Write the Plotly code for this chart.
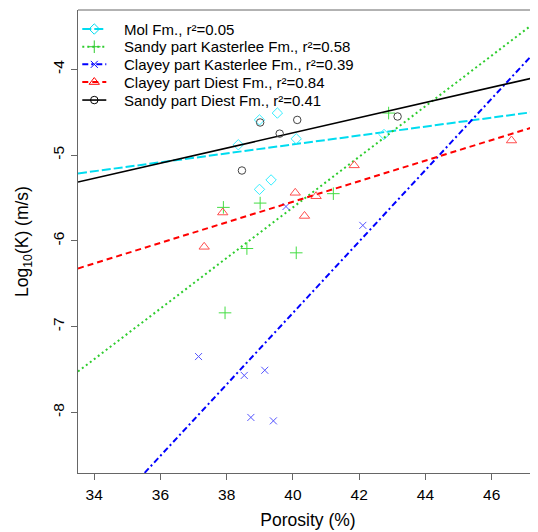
import plotly.graph_objects as go

# ---- data ----
mol_x = [39.53, 38.99, 40.10, 38.35, 39.34, 38.99, 42.75]
mol_y = [-4.51, -4.59, -4.81, -4.88, -5.29, -5.40, -4.76]

sk_x = [37.90, 39.01, 41.22, 42.89, 38.61, 40.10, 37.95]
sk_y = [-5.61, -5.56, -5.45, -4.51, -6.09, -6.14, -6.84]

ck_x = [37.15, 38.53, 39.15, 38.73, 39.41, 39.79, 42.11]
ck_y = [-7.35, -7.57, -7.51, -8.06, -8.10, -5.60, -5.82]

cd_x = [37.88, 37.32, 40.07, 40.70, 40.35, 41.85, 46.60]
cd_y = [-5.67, -6.07, -5.44, -5.48, -5.71, -5.12, -4.83]

sd_x = [39.01, 40.13, 39.60, 38.46, 43.16]
sd_y = [-4.62, -4.59, -4.75, -5.18, -4.55]

series_names = [
    "Mol Fm., r²=0.05",
    "Sandy part Kasterlee Fm., r²=0.58",
    "Clayey part Kasterlee Fm., r²=0.39",
    "Clayey part Diest Fm., r²=0.84",
    "Sandy part Diest Fm., r²=0.41",
]
fit_slope = [0.0521, 0.295, 0.4165, 0.1199, 0.0884]
fit_intercept = [-6.96, -17.41, -23.501, -10.340, -8.277]

x_ticks = [34, 36, 38, 40, 42, 44, 46]
x_ticktext = ["34", "36", "38", "40", "42", "44", "46"]
y_ticks = [-8, -7, -6, -5, -4]
y_ticktext = ["-8", "-7", "-6", "-5", "-4"]
x_range = [33.51, 47.40]
y_range = [-8.708, -3.308]

# ---- styles ----
xs = [mol_x, sk_x, ck_x, cd_x, sd_x]
ys = [mol_y, sk_y, ck_y, cd_y, sd_y]
line_colors = ["#00dcf0", "#2ecc2e", "#0000ff", "#ff0000", "#000000"]
marker_colors = ["#33eeff", "#44dd44", "#5555ff", "#ff4d4d", "#444444"]
dashes = ["9px,3px", "2px,3px", "6px,3px,2px,3px", "6px,4px", "solid"]
line_widths = [2, 2, 2, 2, 1.6]
symbols = ["diamond-open", "cross-thin-open", "x-thin-open", "triangle-up-open", "circle-open"]
sizes = [8, 9, 7, 9, 7.5]

# custom legend layout (paper coordinates)
legend_rows_y = [0.9589, 0.9207, 0.8826, 0.8444, 0.8055]
legend_line_x = [0.0093, 0.0615]
legend_marker_x = 0.0354
legend_text_x = 0.0957

FONT = "Liberation Sans, Arial, sans-serif"

fig = go.Figure()

for i in range(5):
    lx = list(x_range)
    ly = [fit_intercept[i] + fit_slope[i] * v for v in lx]
    fig.add_trace(go.Scatter(
        x=lx, y=ly, mode="lines", showlegend=False, hoverinfo="skip",
        line=dict(color=line_colors[i], width=line_widths[i], dash=dashes[i]),
    ))
    fig.add_trace(go.Scatter(
        x=xs[i], y=ys[i], mode="markers", showlegend=False, name=series_names[i],
        marker=dict(symbol=symbols[i], size=sizes[i], color=marker_colors[i],
                    line=dict(color=marker_colors[i], width=1)),
    ))

# legend samples: lines as shapes, markers on an overlay axis in paper units
for i in range(5):
    fig.add_shape(type="line", xref="paper", yref="paper",
                  x0=legend_line_x[0], x1=legend_line_x[1],
                  y0=legend_rows_y[i], y1=legend_rows_y[i],
                  line=dict(color=line_colors[i], width=line_widths[i], dash=dashes[i]))
    fig.add_trace(go.Scatter(
        x=[legend_marker_x], y=[legend_rows_y[i]], xaxis="x2", yaxis="y2",
        mode="markers", showlegend=False, hoverinfo="skip",
        marker=dict(symbol=symbols[i], size=sizes[i], color=line_colors[i],
                    line=dict(color=line_colors[i], width=1)),
    ))
    fig.add_annotation(xref="paper", yref="paper", x=legend_text_x, y=legend_rows_y[i],
                       xanchor="left", yanchor="middle", showarrow=False,
                       text=series_names[i],
                       font=dict(family=FONT, size=15, color="#000000"))

axis_common = dict(
    showgrid=False, zeroline=False, showline=True, linecolor="#666666", linewidth=1,
    ticks="outside", ticklen=6, tickcolor="#666666", tickwidth=1, automargin=False,
    tickfont=dict(family=FONT, size=15.5, color="#000000"),
)

fig.update_layout(
    xaxis=dict(range=x_range, tickmode="array", tickvals=x_ticks, ticktext=x_ticktext,
               ticklabelstandoff=1,
               title=dict(text="Porosity (%)", font=dict(family=FONT, size=17.5, color="#000000"),
                          standoff=12),
               **axis_common),
    yaxis=dict(range=y_range, tickmode="array", tickvals=y_ticks, ticktext=y_ticktext,
               tickangle=-90, ticklabelstandoff=1,
               title=dict(text="Log<sub>10</sub>(K) (m/s)",
                          font=dict(family=FONT, size=17.5, color="#000000"), standoff=16),
               **axis_common),
    xaxis2=dict(overlaying="x", range=[0, 1], visible=False, fixedrange=True),
    yaxis2=dict(overlaying="y", range=[0, 1], visible=False, fixedrange=True),
)

# top frame line
fig.add_shape(type="line", xref="paper", yref="paper", x0=0, x1=1, y0=1, y1=1,
              line=dict(color="#666666", width=1))

# page body has an 8px margin: the figure is sized/offset to compensate
fig.update_layout(
    width=530, height=524, autosize=False,
    margin=dict(l=70, r=0, t=2, b=59),
    paper_bgcolor="white", plot_bgcolor="white",
    font=dict(family=FONT, color="#000000"),
    showlegend=False,
)

fig.write_html("out.html")
